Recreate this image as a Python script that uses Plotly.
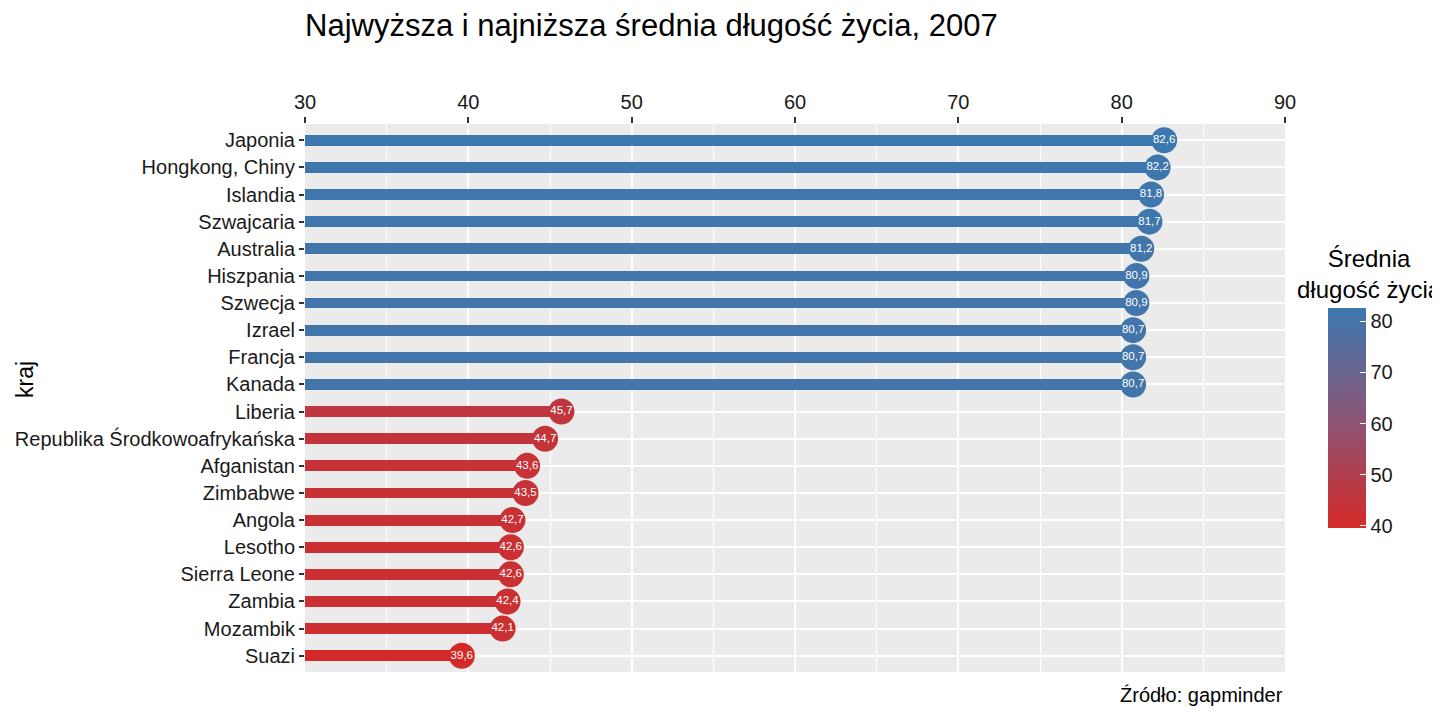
import plotly.graph_objects as go

# kraje od góry do dołu
countries = [
    "Japonia", "Hongkong, Chiny", "Islandia", "Szwajcaria", "Australia",
    "Hiszpania", "Szwecja", "Izrael", "Francja", "Kanada",
    "Liberia", "Republika Środkowoafrykańska", "Afganistan", "Zimbabwe", "Angola",
    "Lesotho", "Sierra Leone", "Zambia", "Mozambik", "Suazi",
]
life_exp = [
    82.6, 82.2, 81.8, 81.7, 81.2,
    80.9, 80.9, 80.7, 80.7, 80.7,
    45.7, 44.7, 43.6, 43.5, 42.7,
    42.6, 42.6, 42.4, 42.1, 39.6,
]
x_ticks = [30, 40, 50, 60, 70, 80, 90]
cbar_ticks = [40, 50, 60, 70, 80]

BASE = 30
FONT = "Liberation Sans, Arial, sans-serif"
scale = [[0.0, "#D42A27"], [0.5, "#8A5577"], [1.0, "#3C78AF"]]

labels = [f"{v:.1f}".replace(".", ",") for v in life_exp]

# strona ma 8px marginesu body, więc figura jest o 8px mniejsza i przesunięta
OFF = 8
W, H = 1440 - OFF, 720 - OFF
L, R, T, B = 305 - OFF, 155, 124 - OFF, 48
pw, ph = W - L - R, H - T - B


def px_x(x):
    return (x - OFF - L) / pw


def px_y(y):
    return (H - B - (y - OFF)) / ph


fig = go.Figure()

# segmenty (lizaki)
fig.add_trace(go.Bar(
    y=countries, x=[v - BASE for v in life_exp], base=BASE,
    orientation="h", width=0.4,
    marker=dict(color=life_exp, coloraxis="coloraxis", line_width=0),
    hoverinfo="skip", showlegend=False,
))

# kropki z etykietami
fig.add_trace(go.Scatter(
    y=countries, x=life_exp, mode="markers+text",
    marker=dict(size=26, color=life_exp, coloraxis="coloraxis", line_width=0),
    text=labels, textposition="middle center",
    textfont=dict(color="white", size=11.5, family=FONT),
    showlegend=False,
))

fig.update_layout(
    width=W, height=H,
    margin=dict(l=L, r=R, t=T, b=B, autoexpand=False),
    paper_bgcolor="white", plot_bgcolor="#EBEBEB",
    font=dict(family=FONT, size=20, color="#1a1a1a"),
    title=dict(text="Najwyższa i najniższa średnia długość życia, 2007",
               x=(305 - OFF) / W, xanchor="left",
               y=1 - (25 - OFF) / H, yanchor="middle",
               font=dict(size=31, color="black")),
    bargap=0,
    coloraxis=dict(
        cmin=min(life_exp), cmax=max(life_exp), colorscale=scale,
        colorbar=dict(
            x=px_x(1328), xanchor="left", xpad=0,
            y=px_y(418), yanchor="middle", ypad=0,
            thickness=38, len=220, lenmode="pixels",
            outlinewidth=0, tickvals=cbar_ticks,
            ticks="inside", ticklen=6, tickcolor="white", tickwidth=1,
            tickfont=dict(size=20, color="#1a1a1a"),
        ),
    ),
    xaxis=dict(
        side="top", range=[30, 90], tickvals=x_ticks,
        showgrid=True, gridcolor="white", gridwidth=2,
        minor=dict(tickvals=[35, 45, 55, 65, 75, 85], showgrid=True,
                   gridcolor="white", gridwidth=1),
        ticks="outside", ticklen=6, tickcolor="#333", tickwidth=1.5,
        zeroline=False, tickfont=dict(size=20, color="#1a1a1a"),
    ),
    yaxis=dict(
        categoryorder="array", categoryarray=countries,
        range=[len(countries) - 0.4, -0.6],
        showgrid=True, gridcolor="white", gridwidth=2,
        ticks="outside", ticklen=5, tickcolor="#333", tickwidth=1.5,
        tickfont=dict(size=20, color="#1a1a1a"),
    ),
    annotations=[
        dict(text="kraj", x=px_x(25), y=px_y(380), xref="paper", yref="paper",
             xanchor="center", yanchor="middle",
             showarrow=False, textangle=-90, font=dict(size=23, color="black")),
        dict(text="Źródło: gapminder", x=1.0, y=px_y(695), xref="paper", yref="paper",
             xanchor="right", yanchor="middle", showarrow=False,
             font=dict(size=20, color="black")),
        dict(text="Średnia<br>długość życia", x=px_x(1369), y=px_y(274),
             xref="paper", yref="paper", xanchor="center", yanchor="middle",
             showarrow=False, align="center", font=dict(size=24, color="black")),
    ],
)

fig.write_html("out.html")
